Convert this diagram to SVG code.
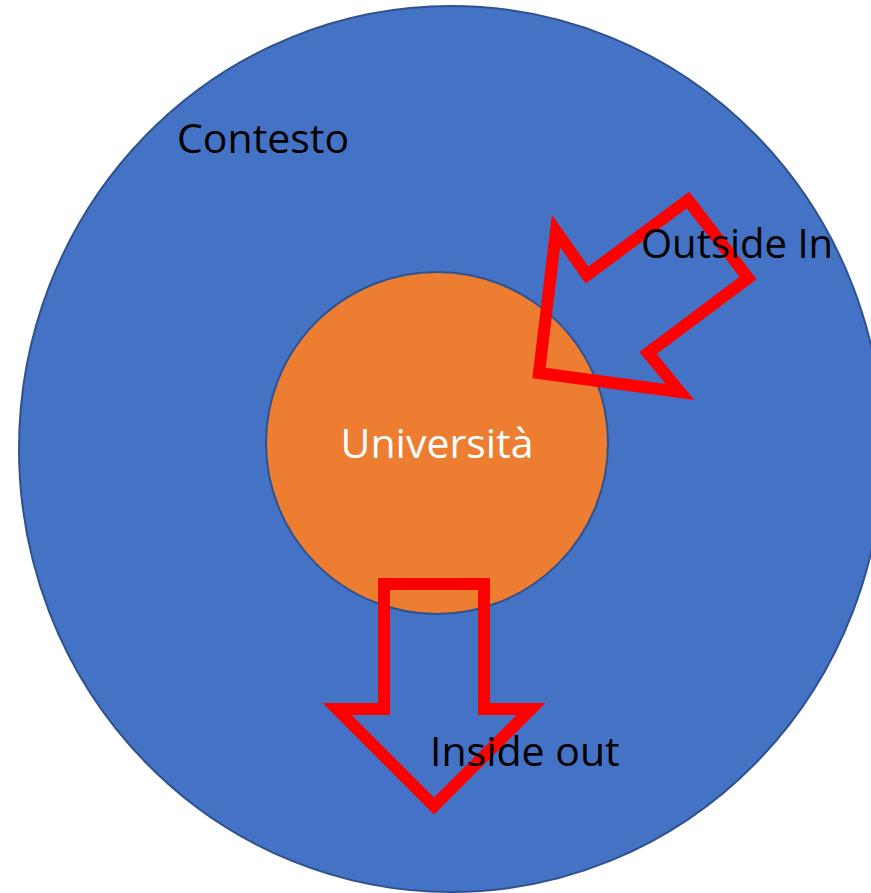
<svg xmlns="http://www.w3.org/2000/svg" width="871" height="893" viewBox="0 0 871 893">
<style>
.lbl{font-family:"Open Sans","Noto Sans",sans-serif;font-size:41px;fill:#000}
.arrow{fill:none;stroke:#FF0000;stroke-width:12;stroke-linejoin:miter;stroke-miterlimit:10}
</style>
<defs>
<clipPath id="ctx"><ellipse cx="451" cy="449" rx="433" ry="443"/></clipPath>
</defs>
<rect width="871" height="893" fill="#fff"/>
<g id="contesto">
<ellipse cx="451" cy="449" rx="432" ry="443" fill="#4472C4" stroke="#2F528F" stroke-width="2"/>
<text class="lbl" x="177" y="153">Contesto</text>
</g>
<g id="universita">
<circle cx="437" cy="443" r="171" fill="#ED7D31" stroke="#2F528F" stroke-width="2"/>
<text class="lbl" x="437" y="458" text-anchor="middle" style="fill:#fff">Università</text>
</g>
<g id="connectors">
<polygon id="outside-in-arrow" class="arrow" points="688,200 748,278 648,353 680,392 539,373 556,231 587,275"/>
<polygon id="inside-out-arrow" class="arrow" points="384,584 484,584 484,709 531,709 434,806 337,709 384,709"/>
</g>
<g id="labels" clip-path="url(#ctx)">
<text class="lbl" x="641" y="258" style="font-size:40px">Outside In</text>
<text class="lbl" x="430" y="766">Inside out</text>
</g>
</svg>
